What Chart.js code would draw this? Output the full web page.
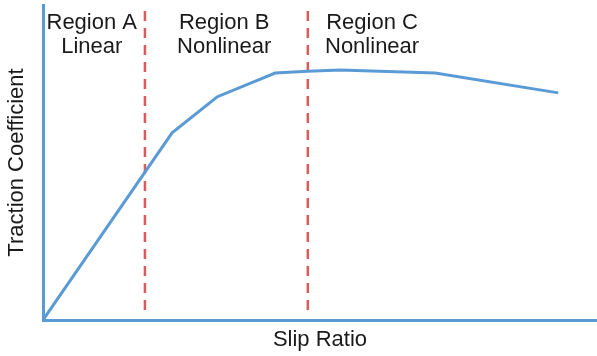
<!DOCTYPE html>
<html>
<head>
<meta charset="utf-8">
<script src="https://cdn.jsdelivr.net/npm/chart.js@4"></script>
<style>
    html, body { margin: 0; padding: 0; background: #fff; }
    #wrap { width: 597px; height: 356px; position: relative; }
</style>
</head>
<body>
<div id="wrap"><canvas id="tractionChart"></canvas></div>
<script>
// curva de tração (escala 0..1)
const slipRatio = [0, 0.233, 0.314, 0.419, 0.478, 0.536, 0.708, 0.930];
const traction  = [0, 0.594, 0.708, 0.784, 0.790, 0.794, 0.784, 0.721];

// limites entre regiões (linhas tracejadas)
const regionBounds = [0.184, 0.478];
const boundTop = 1.0;
const boundBottom = 0.032;

// rótulos das regiões
const regionNames = [['Region A', 'Linear'], ['Region B', 'Nonlinear'], ['Region C', 'Nonlinear']];
const regionLabelX = [0.088, 0.327, 0.594];

const AZUL = '#5b9bd5';
const VERMELHO = '#dc5a5a';
const FONTE = '"Liberation Sans", Arial, sans-serif';

document.addEventListener('DOMContentLoaded', function() {
    const ctx = document.getElementById('tractionChart');

    const datasets = [{
        data: slipRatio.map((x, i) => ({ x: x, y: traction[i] })),
        borderColor: AZUL,
        borderWidth: 3,
        pointRadius: 0,
        tension: 0
    }];
    regionBounds.forEach(function(b) {
        datasets.push({
            data: [{ x: b, y: boundBottom }, { x: b, y: boundTop }],
            borderColor: VERMELHO,
            borderWidth: 2.5,
            borderDash: [10, 7],
            pointRadius: 0
        });
    });

    // desenha os rótulos das regiões
    const regionPlugin = {
        id: 'regionLabels',
        afterDraw: function(chart) {
            const c = chart.ctx;
            const xs = chart.scales.x;
            c.save();
            c.fillStyle = '#1a1a1a';
            c.font = '22px ' + FONTE;
            c.textAlign = 'center';
            c.textBaseline = 'alphabetic';
            regionNames.forEach(function(lines, i) {
                const px = xs.getPixelForValue(regionLabelX[i]);
                c.fillText(lines[0], px, 29);
                c.fillText(lines[1], px, 53);
            });
            c.restore();
        }
    };

    new Chart(ctx.getContext('2d'), {
        type: 'line',
        data: { datasets: datasets },
        options: {
            responsive: true,
            maintainAspectRatio: false,
            animation: false,
            layout: { padding: { top: 5, right: 0, left: 0, bottom: 0 } },
            plugins: {
                legend: { display: false },
                tooltip: { enabled: false }
            },
            scales: {
                x: {
                    type: 'linear',
                    min: 0,
                    max: 1,
                    grid: { display: false },
                    ticks: { display: false },
                    border: { color: AZUL, width: 3 },
                    title: {
                        display: true,
                        text: 'Slip Ratio',
                        color: '#1a1a1a',
                        font: { family: FONTE, size: 22 },
                        padding: { top: 0, bottom: 3 }
                    },
                    afterFit: function(s) { s.height = 36; }
                },
                y: {
                    min: 0,
                    max: 1,
                    grid: { display: false },
                    ticks: { display: false },
                    border: { color: AZUL, width: 3 },
                    title: {
                        display: true,
                        text: 'Traction Coefficient',
                        color: '#1a1a1a',
                        font: { family: FONTE, size: 22 },
                        padding: { top: 4, bottom: 0 }
                    },
                    afterFit: function(s) { s.width = 43; }
                }
            }
        },
        plugins: [regionPlugin]
    });
});
</script>
</body>
</html>
